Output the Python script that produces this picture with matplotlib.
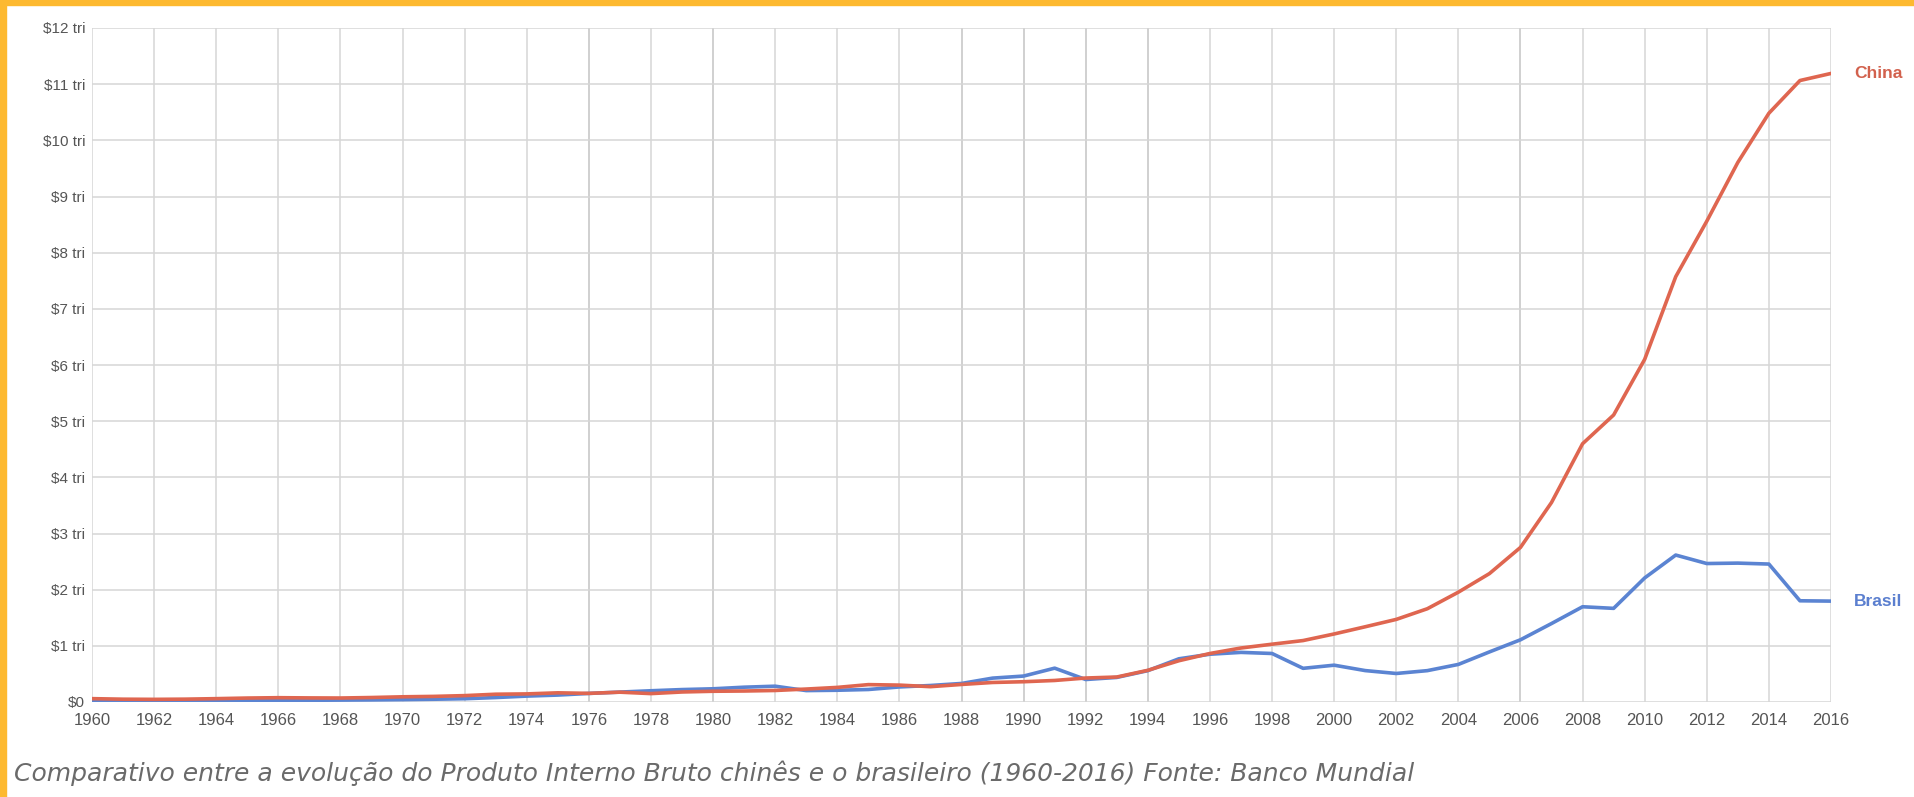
import matplotlib
matplotlib.use("Agg")
import matplotlib.pyplot as plt
from matplotlib.patches import Rectangle

years = list(range(1960, 2017))
china = [0.0597, 0.0500, 0.0472, 0.0507, 0.0597, 0.0704, 0.0767, 0.0729, 0.0709, 0.0797,
         0.0926, 0.0998, 0.1137, 0.1385, 0.1441, 0.1634, 0.1539, 0.1749, 0.1495, 0.1783,
         0.1911, 0.1956, 0.2051, 0.2305, 0.2599, 0.3094, 0.3008, 0.2729, 0.3123, 0.3477,
         0.3609, 0.3834, 0.4269, 0.4447, 0.5643, 0.7345, 0.8637, 0.9615, 1.0290, 1.0940,
         1.2113, 1.3394, 1.4706, 1.6603, 1.9553, 2.2860, 2.7521, 3.5522, 4.5982, 5.1100,
         6.1006, 7.5726, 8.5605, 9.6072, 10.4824, 11.0647, 11.1910]
brasil = [0.0152, 0.0152, 0.0195, 0.0234, 0.0213, 0.0218, 0.0276, 0.0307, 0.0338, 0.0371,
          0.0421, 0.0491, 0.0583, 0.0792, 0.1051, 0.1233, 0.1526, 0.1765, 0.2002, 0.2214,
          0.2352, 0.2637, 0.2814, 0.2033, 0.2092, 0.2226, 0.2680, 0.2941, 0.3301, 0.4251,
          0.4619, 0.6026, 0.4003, 0.4375, 0.5582, 0.7691, 0.8508, 0.8834, 0.8636, 0.5995,
          0.6554, 0.5594, 0.5078, 0.5583, 0.6690, 0.8916, 1.1076, 1.3971, 1.6959, 1.6671,
          2.2089, 2.6162, 2.4653, 2.4728, 2.4559, 1.8022, 1.7962]
y_ticks = list(range(0, 13))
y_labels = ["$0"] + [f"${v} tri" for v in range(1, 13)]
x_ticks = list(range(1960, 2017, 2))
caption = "Comparativo entre a evolução do Produto Interno Bruto chinês e o brasileiro (1960-2016) Fonte: Banco Mundial"

W, H = 1914, 797
fig = plt.figure(figsize=(W / 100, H / 100), dpi=100)
fig.patch.set_facecolor("white")

# orange frame (top and left)
fig.patches.append(Rectangle((0, 1 - 5 / H), 1, 5 / H, transform=fig.transFigure,
                             color="#FDB930", zorder=0))
fig.patches.append(Rectangle((0, 0), 6 / W, 1, transform=fig.transFigure,
                             color="#FDB930", zorder=0))

left, right = 92 / W, 1831 / W
top, bottom = 28 / H, 702 / H
ax = fig.add_axes([left, 1 - bottom, right - left, bottom - top])
ax.set_xlim(1960, 2016)
ax.set_ylim(0, 12)

ax.set_xticks(x_ticks)
ax.set_xticklabels([str(x) for x in x_ticks])
ax.set_yticks(y_ticks)
ax.set_yticklabels(y_labels)
ax.tick_params(axis="both", length=0, colors="#555555")
ax.tick_params(axis="x", pad=8, labelsize=12)
ax.tick_params(axis="y", pad=5, labelsize=11)
for lab in ax.get_xticklabels() + ax.get_yticklabels():
    lab.set_fontfamily("Liberation Sans")

ax.grid(True, color="#d6d6d6", linewidth=1.1)
for spine in ax.spines.values():
    spine.set_visible(False)

# some vertical grid lines appear darker in the reference
for yr in [1976, 1980, 1988, 1990, 1992, 1994, 2006]:
    ax.axvline(yr, color="#b8b8b8", linewidth=1.2, zorder=1)

ax.plot(years, brasil, color="#5b84d2", linewidth=2.6, zorder=3, solid_joinstyle="round")
ax.plot(years, china, color="#df6650", linewidth=2.6, zorder=4, solid_joinstyle="round")

ax.text(2016.75, china[-1], "China", color="#d2614d", fontsize=12.5, fontweight="bold",
        va="center", ha="left", family="Liberation Sans", clip_on=False)
ax.text(2016.75, brasil[-1], "Brasil", color="#5b7fcf", fontsize=12.5, fontweight="bold",
        va="center", ha="left", family="Liberation Sans", clip_on=False)

fig.text(14 / W, 1 - 773 / H, caption, fontsize=18, style="italic", color="#6a6a6a",
         family="DejaVu Sans", va="center", ha="left")

fig.savefig("out.png", dpi=100, facecolor="white")
